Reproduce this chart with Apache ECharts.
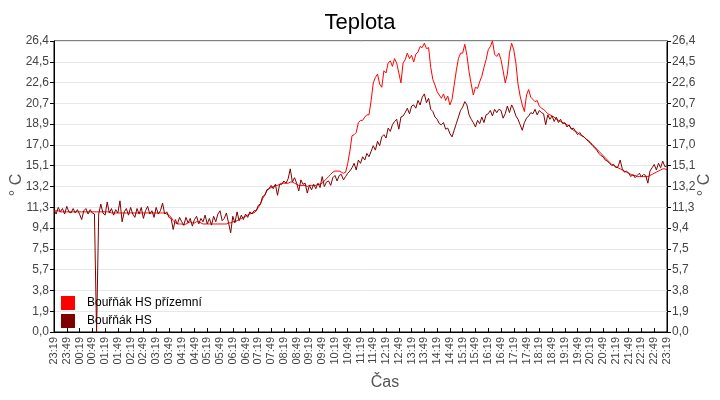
<!DOCTYPE html>
<html>
<head>
<meta charset="utf-8">
<script src="https://cdn.jsdelivr.net/npm/echarts@6/dist/echarts.min.js"></script>
<style>html,body{margin:0;padding:0;background:#fff}#c{width:720px;height:400px}</style>
</head>
<body>
<div id="c"></div>
<script>
const titleText = 'Teplota';
const seriesNames = ['Bouřňák HS přízemní', 'Bouřňák HS'];
const stepMinutes = 5;
const xTickLabels = ['23:19','23:49','00:19','00:49','01:19','01:49','02:19','02:49','03:19','03:49','04:19','04:49','05:19','05:49','06:19','06:49','07:19','07:49','08:19','08:49','09:19','09:49','10:19','10:49','11:19','11:49','12:19','12:49','13:19','13:49','14:19','14:49','15:19','15:49','16:19','16:49','17:19','17:49','18:19','18:49','19:19','19:49','20:19','20:49','21:19','21:49','22:19','22:49','23:19'];
const yTickLabels = ['0,0','1,9','3,8','5,7','7,5','9,4','11,3','13,2','15,1','17,0','18,9','20,7','22,6','24,5','26,4'];
const yMax = 26.4;

// Bouřňák HS přízemní (red), one value every 5 minutes from 23:19
const prizemni = [
11.0,11.0,11.0,10.9,10.9,10.9,10.9,10.9,10.9,10.9,
10.9,10.9,10.9,10.9,10.9,10.9,10.9,10.9,10.9,10.9,
10.9,10.9,10.9,10.9,10.9,10.9,10.9,10.8,10.8,10.8,
10.8,10.8,10.8,10.8,10.8,10.8,10.8,10.8,10.8,10.8,
10.8,10.8,10.8,10.8,10.8,10.8,10.8,10.8,10.8,10.8,
10.8,10.8,10.8,10.7,10.6,10.4,10.1,9.9,9.8,9.8,
9.8,9.7,9.8,9.9,10.0,9.9,9.9,10.0,10.0,9.9,
9.8,9.8,9.8,9.8,9.8,9.8,9.8,9.8,9.8,9.8,
9.8,9.8,9.9,9.9,10.0,10.0,10.1,10.2,10.3,10.4,
10.5,10.6,10.7,10.8,10.8,11.0,11.3,11.6,12.1,12.4,
12.8,13.0,13.1,13.2,13.3,13.3,13.4,13.5,13.5,13.5,
13.5,13.6,13.6,13.5,13.4,13.3,13.3,13.3,13.3,13.2,
13.3,13.3,13.3,13.3,13.4,13.4,13.5,13.7,13.9,14.1,
14.3,14.5,14.6,14.6,14.6,14.5,14.4,14.5,15.3,16.4,
17.8,17.9,18.1,19.0,19.2,19.2,19.5,19.7,19.7,21.0,
22.6,23.1,23.4,22.5,22.2,23.7,23.5,24.4,24.6,24.1,
24.8,24.4,23.5,22.6,24.4,24.7,25.3,24.8,25.1,24.5,
25.2,25.4,25.9,25.8,26.2,25.7,25.8,24.0,22.9,22.4,
21.8,21.5,21.2,21.6,21.0,21.4,20.6,21.1,22.4,23.7,
24.8,25.3,25.3,26.1,25.1,23.6,22.5,21.5,22.2,22.1,
22.7,23.2,24.0,24.7,25.6,25.9,26.4,25.2,25.0,25.3,
24.7,23.7,22.6,23.4,25.3,26.2,25.6,24.4,22.5,21.4,
20.6,20.0,21.5,22.0,21.3,21.1,20.9,21.0,20.5,20.3,
20.2,20.0,19.8,19.7,19.6,19.5,19.3,19.2,19.1,19.0,
18.9,18.8,18.7,18.5,18.3,18.2,18.1,17.9,17.8,17.7,
17.5,17.4,17.2,17.0,16.8,16.6,16.4,16.2,16.0,15.8,
15.6,15.4,15.2,15.1,15.0,14.9,14.8,14.7,14.6,14.5,
14.4,14.3,14.2,14.2,14.1,14.1,14.1,14.1,14.1,14.1,
14.2,14.3,14.4,14.5,14.6,14.7,14.8,14.8,14.7
];

// Bouřňák HS (dark red), one value every 5 minutes from 23:19
const hs = [
11.1,10.7,11.3,10.9,11.2,10.7,11.4,10.9,10.8,11.2,
10.8,11.1,10.7,10.2,11.0,11.2,10.7,11.1,10.8,10.7,
0,10.7,11.6,10.8,10.6,11.8,10.8,11.2,10.6,11.1,
10.8,11.9,10.0,10.9,11.2,10.6,11.3,10.7,10.4,11.2,
10.7,11.3,10.3,11.0,11.4,10.7,11.0,10.4,11.3,10.7,
11.0,11.7,10.7,10.9,10.4,10.3,9.3,10.2,9.8,10.4,
10.0,9.7,10.4,9.9,10.3,9.6,10.2,10.5,9.8,10.3,
10.0,10.6,9.8,10.3,9.7,10.5,10.0,10.7,11.0,10.1,
10.3,10.8,9.9,9.0,10.5,9.9,10.9,10.1,10.6,10.2,
10.7,10.4,10.9,10.7,11.0,11.0,11.5,11.6,12.3,12.4,
12.9,13.0,13.3,13.0,13.4,12.4,13.4,13.4,13.7,13.5,
13.9,14.8,13.6,14.0,13.5,12.8,13.8,13.4,13.5,12.6,
13.3,12.9,13.4,13.0,13.5,13.1,14.1,13.2,13.6,13.7,
13.3,14.0,14.2,13.7,14.2,14.3,13.8,14.1,14.4,14.6,
14.9,15.3,14.7,15.6,15.3,15.9,15.6,16.2,15.9,16.4,
16.9,16.5,17.3,16.9,17.7,17.9,17.6,18.5,18.2,18.8,
19.1,19.3,18.4,19.5,19.6,19.9,20.3,19.8,20.5,20.6,
20.3,21.0,20.6,21.3,21.6,20.8,21.2,20.2,20.0,19.5,
19.3,18.9,18.8,19.0,18.4,18.5,18.0,17.7,18.3,18.9,
19.5,20.1,20.4,20.9,20.6,19.7,19.3,19.0,18.6,19.2,
18.9,19.5,19.0,19.7,19.8,20.1,19.6,20.2,19.9,20.2,
20.1,19.4,19.8,20.5,19.9,20.6,20.2,19.6,19.3,18.8,
18.3,19.0,19.4,19.6,19.9,19.8,20.2,19.7,20.1,19.9,
19.8,18.8,19.7,19.3,19.6,19.1,19.5,19.0,19.3,18.9,
19.0,18.6,18.8,18.4,18.5,18.2,17.9,18.1,17.8,17.7,
17.5,17.3,17.1,16.9,16.7,16.5,16.2,16.0,15.9,15.6,
15.5,15.3,15.1,15.2,14.9,15.0,15.6,14.8,14.5,14.6,
14.4,14.1,14.3,14.0,14.2,14.4,14.1,14.3,14.2,13.5,
14.6,14.9,15.2,14.7,15.3,14.9,15.5,15.0,15.1
];

const FONT = '"Liberation Sans", Arial, sans-serif';
const yInterval = yMax / (yTickLabels.length - 1);
const xMax = (xTickLabels.length - 1) * 30;
const yFmt = v => yTickLabels[Math.round(v / yInterval)] || '';
const toPairs = arr => arr.map((v, i) => [i * stepMinutes, v]);

const chart = echarts.init(document.getElementById('c'), null, {renderer: 'canvas'});
const yCommon = {
  type: 'value', min: 0, max: yMax, interval: yInterval,
  axisLine: {show: true, onZero: false, lineStyle: {color: '#000', width: 1}},
  axisTick: {show: true, inside: false, length: 4, lineStyle: {color: '#000'}},
  axisLabel: {formatter: yFmt, fontSize: 12, color: '#444', fontFamily: FONT, margin: 5}
};
chart.setOption({
  animation: false,
  backgroundColor: '#fff',
  title: {text: titleText, left: 'center', top: 7,
    textStyle: {fontSize: 22, fontWeight: 'normal', color: '#000', fontFamily: FONT}},
  grid: {left: 54, right: 53, top: 41, bottom: 68, show: true, borderColor: '#000', borderWidth: 1, backgroundColor: 'transparent'},
  legend: {
    orient: 'vertical', left: 61, top: 296, padding: 0, itemWidth: 14, itemHeight: 14, itemGap: 4,
    icon: 'rect', data: seriesNames,
    textStyle: {fontSize: 12, color: '#000', fontFamily: FONT, padding: [0, 0, 0, 7]}
  },
  xAxis: {
    type: 'value', min: 0, max: xMax, interval: 30,
    axisLine: {show: true, onZero: false, lineStyle: {color: '#000'}},
    axisTick: {show: true, inside: true, length: 4, lineStyle: {color: '#000'}},
    splitLine: {show: false},
    axisLabel: {rotate: 90, fontSize: 11, color: '#444', fontFamily: FONT, margin: 5,
      formatter: v => xTickLabels[Math.round(v / 30)] || ''}
  },
  yAxis: [
    Object.assign({}, yCommon, {position: 'left', splitLine: {show: true, lineStyle: {color: '#e8e8e8', width: 1}}}),
    Object.assign({}, yCommon, {position: 'right', splitLine: {show: false}})
  ],
  graphic: [
    {type: 'text', x: 385, y: 383, style: {text: 'Čas', font: '16px ' + FONT, fill: '#555', textAlign: 'center', textVerticalAlign: 'middle'}},
    {type: 'text', x: 17, y: 185, rotation: Math.PI / 2, style: {text: '° C', font: '16px ' + FONT, fill: '#555', textAlign: 'center', textVerticalAlign: 'middle'}},
    {type: 'text', x: 705, y: 185, rotation: Math.PI / 2, style: {text: '° C', font: '16px ' + FONT, fill: '#555', textAlign: 'center', textVerticalAlign: 'middle'}}
  ],
  series: [
    {name: seriesNames[0], type: 'line', data: toPairs(prizemni), showSymbol: false, symbol: 'none',
      lineStyle: {color: '#ff0000', width: 1}, itemStyle: {color: '#ff0000'}, z: 2},
    {name: seriesNames[1], type: 'line', data: toPairs(hs), showSymbol: false, symbol: 'none',
      lineStyle: {color: '#800000', width: 1}, itemStyle: {color: '#800000'}, z: 3}
  ]
});
</script>
</body>
</html>
